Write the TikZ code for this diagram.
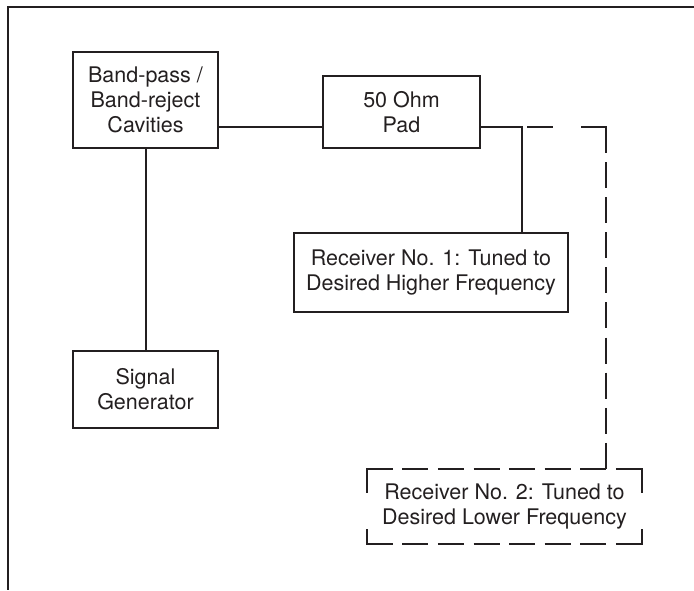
\documentclass[tikz,border=0pt]{standalone}
\usepackage{fontspec}
\setmainfont{TeX Gyre Heros}
\usetikzlibrary{calc}
\definecolor{ink}{HTML}{231F20}
\tikzset{
  wire/.style={draw=ink, line width=2pt},
  blockbox/.style={draw=ink, line width=2pt, inner sep=0pt, align=center,
    text=ink, font=\fontsize{21.5}{25}\selectfont},
  ghostbox/.style={inner sep=0pt, align=center, text=ink,
    font=\fontsize{21.5}{25}\selectfont},
  dashwire/.style={draw=ink, line width=2pt, dash pattern=on 26pt off 9.11pt},
  dashedge/.style={draw=ink, line width=2pt, dash pattern=on 26pt off 9.57pt},
}
\begin{document}
\begin{tikzpicture}[x=1pt, y=-1pt]
  \useasboundingbox (0,0) rectangle (694,590);

  % frame
  \draw[wire] (694,6.5) -- (8,6.5) -- (8,590);

  % blocks
  \node[blockbox, minimum width=145pt, minimum height=96pt] (bp) at (145.5,100)
    {Band-pass /\\Band-reject\\Cavities};
  \node[blockbox, minimum width=157pt, minimum height=72pt] (pad) at (401.5,112)
    {50 Ohm\\Pad};
  \node[blockbox, minimum width=274pt, minimum height=79pt] (rx1) at (431,272.5)
    {Receiver No. 1: Tuned to\\Desired Higher Frequency};
  \node[blockbox, minimum width=145pt, minimum height=77pt] (sg) at (145.5,389.5)
    {Signal\\Generator};
  \node[ghostbox, minimum width=275pt, minimum height=75pt] (rx2) at (504.5,506.5)
    {Receiver No. 2: Tuned to\\Desired Lower Frequency};

  % junction points
  \coordinate (j1) at (522,127);
  \coordinate (j2) at (606,127);

  % solid connections
  \draw[wire] (bp.east |- j1) -- (pad.west |- j1);
  \draw[wire] (bp.south) -- (sg.north);
  \draw[wire] (pad.east |- j1) -- (j1) -- (j1 |- rx1.north);

  % dashed connection to the second receiver
  \draw[wire] ($(j1)+(5,0)$) -- ($(j1)+(31,0)$);
  \draw[wire] ($(j2)+(-25,0)$) -- (j2) -- ($(j2)+(0,26)$);
  \draw[dashwire] ($(j2)+(0,35)$) -- (j2 |- rx2.north);

  % dashed outline of the second receiver
  \draw[dashedge] (rx2.north west) -- (rx2.north east);
  \draw[dashedge] (rx2.south west) -- (rx2.south east);
  \draw[wire] ($(rx2.north west)+(0,24)$) -- (rx2.north west) -- ($(rx2.north west)+(26,0)$);
  \draw[wire] ($(rx2.north east)+(0,24)$) -- (rx2.north east) -- ($(rx2.north east)+(-26,0)$);
  \draw[wire] ($(rx2.south west)+(0,-15)$) -- (rx2.south west) -- ($(rx2.south west)+(26,0)$);
  \draw[wire] ($(rx2.south east)+(0,-15)$) -- (rx2.south east) -- ($(rx2.south east)+(-26,0)$);
\end{tikzpicture}
\end{document}
